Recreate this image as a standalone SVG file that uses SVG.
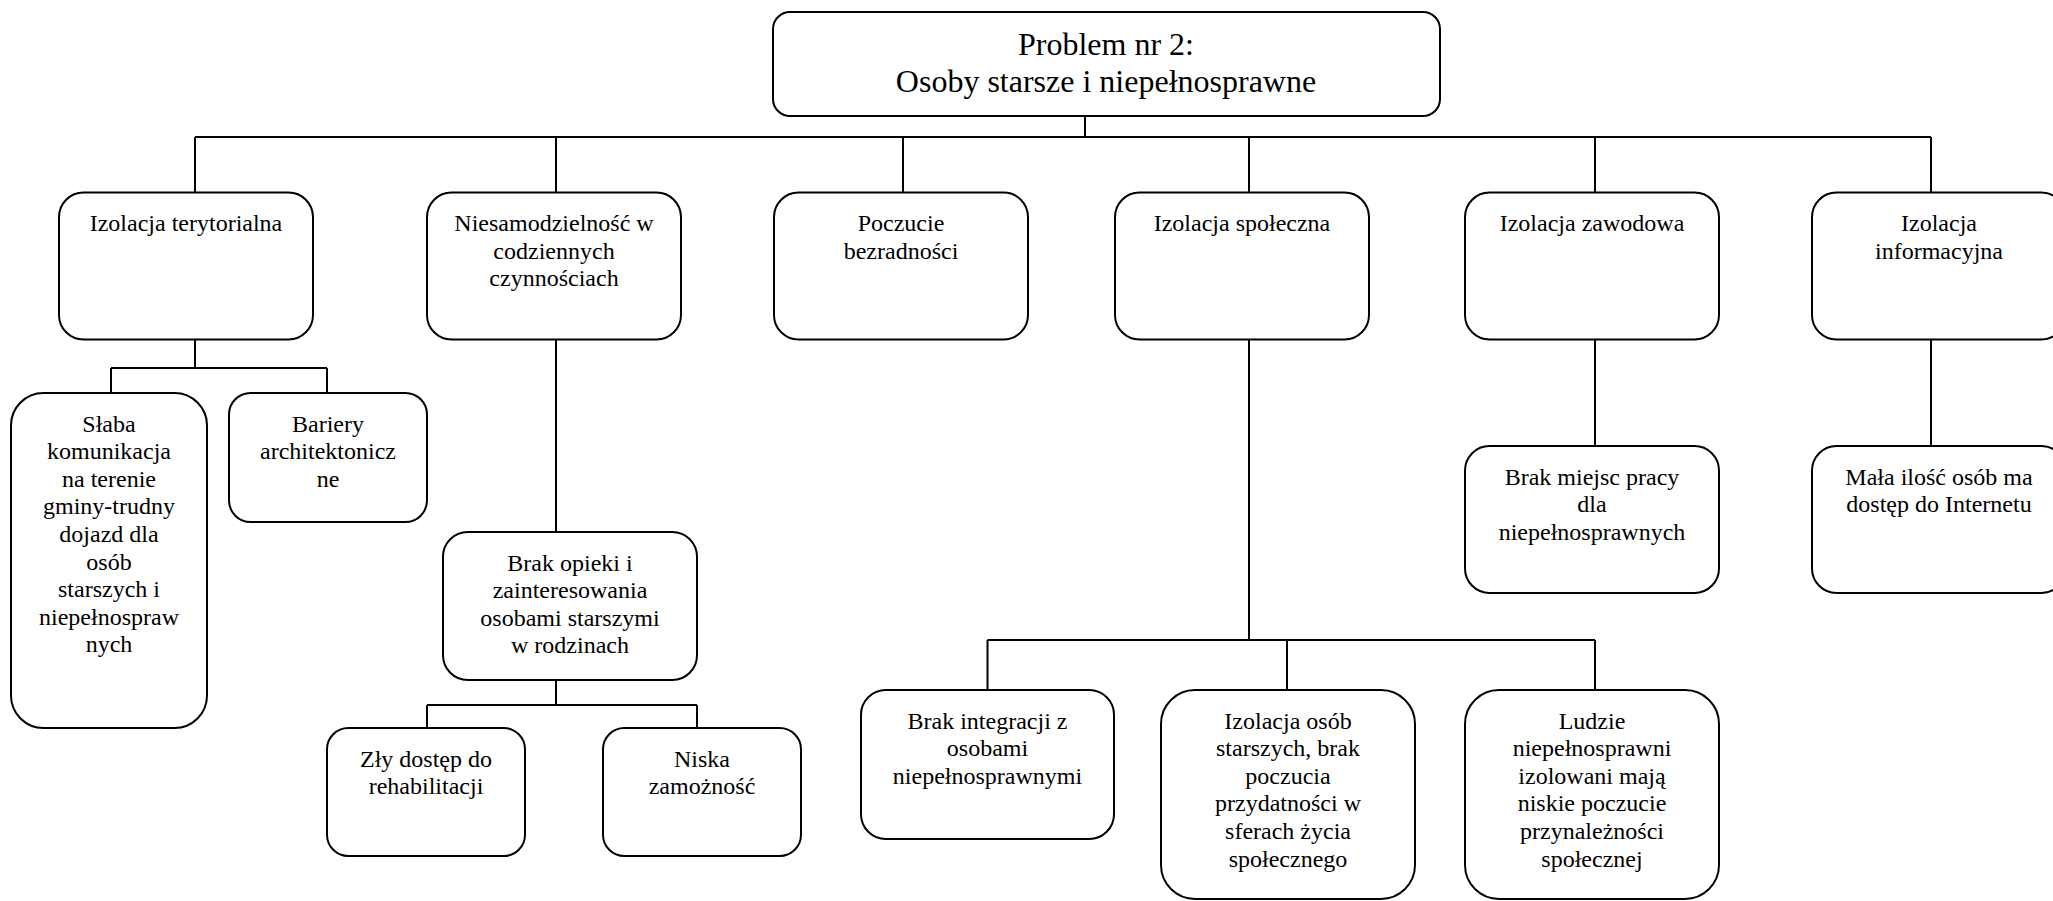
<svg xmlns="http://www.w3.org/2000/svg" width="2053" height="901" viewBox="0 0 2053 901">
<style>
rect{fill:#fff;stroke:#000;stroke-width:2}
#connectors path{fill:none;stroke:#000;stroke-width:2}
text{font-family:"Liberation Serif","Times New Roman",serif;font-size:24px;fill:#000;text-anchor:middle}
.big{font-size:32px}
</style>
<rect x="0" y="0" width="2053" height="901" style="fill:#fff;stroke:none"/>
<g id="connectors">
<path d="M1085,116V137M195,137H1931M195,137V192.5M556,137V192.5M903,137V192.5M1249,137V192.5M1595,137V192.5M1931,137V192.5"/>
<path d="M195,339.5V368M111,368H327M111,368V393M327,368V393"/>
<path d="M556,339.5V532M556,680V705M427,705H697M427,705V728M697,705V728"/>
<path d="M1249,339.5V640M987.5,640H1595M987.5,640V690M1287,640V690M1595,640V690"/>
<path d="M1595,339.5V446M1931,339.5V446"/>
</g>
<g id="root"><rect x="773" y="12" width="667" height="104" rx="17"/>
<text class="big" x="1106" y="55">Problem nr 2:</text><text class="big" x="1106" y="92">Osoby starsze i niepełnosprawne</text></g>
<g id="izolacja-terytorialna"><rect x="59" y="192.5" width="254" height="147" rx="24.5"/><text x="186" y="231">Izolacja terytorialna</text></g>
<g id="niesamodzielnosc"><rect x="427" y="192.5" width="254" height="147" rx="24.5"/><text x="554" y="231">Niesamodzielność w</text><text x="554" y="258.6">codziennych</text><text x="554" y="286.2">czynnościach</text></g>
<g id="poczucie-bezradnosci"><rect x="774" y="192.5" width="254" height="147" rx="24.5"/><text x="901" y="231">Poczucie</text><text x="901" y="258.6">bezradności</text></g>
<g id="izolacja-spoleczna"><rect x="1115" y="192.5" width="254" height="147" rx="24.5"/><text x="1242" y="231">Izolacja społeczna</text></g>
<g id="izolacja-zawodowa"><rect x="1465" y="192.5" width="254" height="147" rx="24.5"/><text x="1592" y="231">Izolacja zawodowa</text></g>
<g id="izolacja-informacyjna"><rect x="1812" y="192.5" width="254" height="147" rx="24.5"/><text x="1939" y="231">Izolacja</text><text x="1939" y="258.6">informacyjna</text></g>
<g id="slaba-komunikacja"><rect x="11" y="393" width="196" height="335" rx="32.5"/>
<text x="109" y="431.5">Słaba</text><text x="109" y="459.1">komunikacja</text><text x="109" y="486.7">na terenie</text><text x="109" y="514.3">gminy-trudny</text><text x="109" y="541.9">dojazd dla</text><text x="109" y="569.5">osób</text><text x="109" y="597.1">starszych i</text><text x="109" y="624.7">niepełnospraw</text><text x="109" y="652.3">nych</text></g>
<g id="bariery"><rect x="229" y="393" width="198" height="129" rx="21.5"/><text x="328" y="431.5">Bariery</text><text x="328" y="459.1">architektonicz</text><text x="328" y="486.7">ne</text></g>
<g id="brak-opieki"><rect x="443" y="532" width="254" height="148" rx="24.7"/><text x="570" y="570.5">Brak opieki i</text><text x="570" y="598.1">zainteresowania</text><text x="570" y="625.7">osobami starszymi</text><text x="570" y="653.3">w rodzinach</text></g>
<g id="zly-dostep"><rect x="327" y="728" width="198" height="128" rx="21.3"/><text x="426" y="766.5">Zły dostęp do</text><text x="426" y="794.1">rehabilitacji</text></g>
<g id="niska-zamoznosc"><rect x="603" y="728" width="198" height="128" rx="21.3"/><text x="702" y="766.5">Niska</text><text x="702" y="794.1">zamożność</text></g>
<g id="brak-integracji"><rect x="861" y="690" width="253" height="149" rx="24.8"/><text x="987.5" y="728.5">Brak integracji z</text><text x="987.5" y="756.1">osobami</text><text x="987.5" y="783.7">niepełnosprawnymi</text></g>
<g id="izolacja-osob"><rect x="1161" y="690" width="254" height="209" rx="34"/><text x="1288" y="728.5">Izolacja osób</text><text x="1288" y="756.1">starszych, brak</text><text x="1288" y="783.7">poczucia</text><text x="1288" y="811.3">przydatności w</text><text x="1288" y="838.9">sferach życia</text><text x="1288" y="866.5">społecznego</text></g>
<g id="ludzie"><rect x="1465" y="690" width="254" height="209" rx="34"/><text x="1592" y="728.5">Ludzie</text><text x="1592" y="756.1">niepełnosprawni</text><text x="1592" y="783.7">izolowani mają</text><text x="1592" y="811.3">niskie poczucie</text><text x="1592" y="838.9">przynależności</text><text x="1592" y="866.5">społecznej</text></g>
<g id="brak-miejsc-pracy"><rect x="1465" y="446" width="254" height="147" rx="24.5"/><text x="1592" y="484.5">Brak miejsc pracy</text><text x="1592" y="512.1">dla</text><text x="1592" y="539.7">niepełnosprawnych</text></g>
<g id="mala-ilosc"><rect x="1812" y="446" width="254" height="147" rx="24.5"/><text x="1939" y="484.5">Mała ilość osób ma</text><text x="1939" y="512.1">dostęp do Internetu</text></g>
</svg>
